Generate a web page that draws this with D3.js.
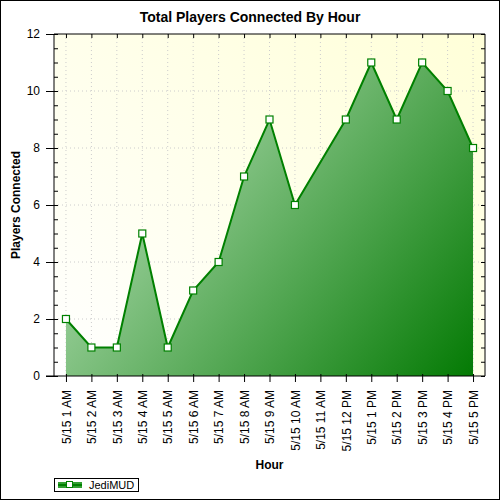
<!DOCTYPE html>
<html><head><meta charset="utf-8">
<script src="https://cdn.jsdelivr.net/npm/d3@7"></script>
<style>body{margin:0}svg{font-family:"Liberation Sans",Arial,sans-serif}</style>
</head><body><div class="container"></div>
<script>
var hours = ["5/15 1 AM","5/15 2 AM","5/15 3 AM","5/15 4 AM","5/15 5 AM","5/15 6 AM","5/15 7 AM","5/15 8 AM","5/15 9 AM","5/15 10 AM","5/15 11 AM","5/15 12 PM","5/15 1 PM","5/15 2 PM","5/15 3 PM","5/15 4 PM","5/15 5 PM"];
var players = [2,1,1,5,1,3,4,7,9,6,null,9,11,9,11,10,8];
var yTicks = [0,2,4,6,8,10,12];

var W = 500, H = 500, L = 54, R = 485, T = 34, B = 376;
var svg = d3.select(".container").append("svg").attr("width",W).attr("height",H);
var defs = svg.append("defs");
var bg = defs.append("linearGradient").attr("id","bg").attr("x1",0).attr("y1",1).attr("x2",1).attr("y2",0);
bg.append("stop").attr("offset",0).attr("stop-color","#ffffff");
bg.append("stop").attr("offset",1).attr("stop-color","#ffffd8");
var ag = defs.append("linearGradient").attr("id","ag").attr("gradientUnits","userSpaceOnUse")
	.attr("x1",L).attr("y1",T).attr("x2",R).attr("y2",B);
ag.append("stop").attr("offset",0.15).attr("stop-color","#b8e0b8");
ag.append("stop").attr("offset",1).attr("stop-color","#007800");

svg.append("rect").attr("x",0.5).attr("y",0.5).attr("width",W-1).attr("height",H-1).attr("fill","#fff").attr("stroke","#000");
svg.append("rect").attr("x",L).attr("y",T).attr("width",R-L).attr("height",B-T).attr("fill","url(#bg)");

var x = d3.scalePoint().domain(hours).range([L,R]).padding(0.47);
var y = d3.scaleLinear().domain([0,12]).range([B,T]);

// grid
svg.append("g").selectAll("line").data(hours).join("line")
	.attr("x1",d=>x(d)).attr("x2",d=>x(d)).attr("y1",T).attr("y2",B)
	.attr("stroke","#ccc").attr("stroke-dasharray","1,3");
svg.append("g").selectAll("line").data(yTicks.slice(1,-1)).join("line")
	.attr("x1",L).attr("x2",R).attr("y1",d=>y(d)).attr("y2",d=>y(d))
	.attr("stroke","#ccc").attr("stroke-dasharray","1,3");

// area + line (skip missing)
var pts = hours.map((h,i)=>({h:h,v:players[i]})).filter(d=>d.v!=null);
svg.append("path").datum(pts).attr("fill","url(#ag)")
	.attr("d",d3.area().x(d=>x(d.h)).y0(B).y1(d=>y(d.v)));
svg.append("path").datum(pts).attr("fill","none").attr("stroke","#008000").attr("stroke-width",2)
	.attr("d",d3.line().x(d=>x(d.h)).y(d=>y(d.v)));
svg.append("g").selectAll("rect").data(pts).join("rect")
	.attr("x",d=>x(d.h)-3.5).attr("y",d=>y(d.v)-3.5).attr("width",7).attr("height",7)
	.attr("fill","#fff").attr("stroke","#008000").attr("stroke-width",1.2);

// axes
var minor = d3.range(0,12.01,0.5);
svg.append("g").attr("transform","translate("+L+",0)")
	.call(d3.axisLeft(y).tickValues(yTicks).tickSize(8).tickPadding(6))
	.call(g=>g.select(".domain").remove());
svg.append("g").attr("transform","translate("+L+",0)")
	.call(d3.axisLeft(y).tickValues(minor).tickSize(-4).tickFormat(""))
	.call(g=>g.select(".domain").remove());
svg.append("g").attr("transform","translate("+R+",0)")
	.call(d3.axisRight(y).tickValues(minor).tickSize(-4).tickFormat(""))
	.call(g=>g.select(".domain").remove());
svg.append("g").attr("transform","translate(0,"+T+")")
	.call(d3.axisTop(x).tickSize(-4).tickFormat(""))
	.call(g=>g.select(".domain").remove());
var xa = svg.append("g").attr("transform","translate(0,"+B+")")
	.call(d3.axisBottom(x).tickSize(6).tickSizeInner(6))
	.call(g=>g.select(".domain").remove());
svg.append("line").attr("x1",L).attr("x2",L).attr("y1",T).attr("y2",B).attr("stroke","#000");
svg.append("line").attr("x1",R).attr("x2",R).attr("y1",T).attr("y2",B).attr("stroke","#000");
svg.append("line").attr("x1",L).attr("x2",R).attr("y1",T).attr("y2",T).attr("stroke","#000");
svg.append("line").attr("x1",L-8).attr("x2",R).attr("y1",B).attr("y2",B).attr("stroke","#000");
xa.selectAll("line").attr("transform","translate(0,-2)").attr("y2",8);
xa.selectAll("text").attr("transform","rotate(-90)").attr("text-anchor","end")
	.attr("x",-14).attr("y",0).attr("dy","0.35em").attr("font-size",12).attr("fill","#000");
svg.selectAll(".tick text").attr("font-size",12).attr("fill","#000");

svg.append("text").attr("x",W/2).attr("y",22).attr("text-anchor","middle")
	.attr("font-weight","bold").attr("font-size",14).text("Total Players Connected By Hour");
svg.append("text").attr("x",(L+R)/2).attr("y",469).attr("text-anchor","middle")
	.attr("font-weight","bold").attr("font-size",12).text("Hour");
svg.append("text").attr("transform","translate(20,"+((T+B)/2)+") rotate(-90)").attr("text-anchor","middle")
	.attr("font-weight","bold").attr("font-size",12).text("Players Connected");

// legend
var lg = svg.append("g");
lg.append("rect").attr("x",54.5).attr("y",478.5).attr("width",84).attr("height",13).attr("fill","#fff").attr("stroke","#000");
lg.append("rect").attr("x",58).attr("y",482).attr("width",24).attr("height",6).attr("fill","#33a033");
lg.append("line").attr("x1",58).attr("x2",82).attr("y1",485).attr("y2",485).attr("stroke","#008000").attr("stroke-width",2);
lg.append("rect").attr("x",66.5).attr("y",481.5).attr("width",6).attr("height",6).attr("fill","#fff").attr("stroke","#008000");
lg.append("text").attr("x",89).attr("y",489).attr("font-size",11).text("JediMUD");
</script></body></html>
